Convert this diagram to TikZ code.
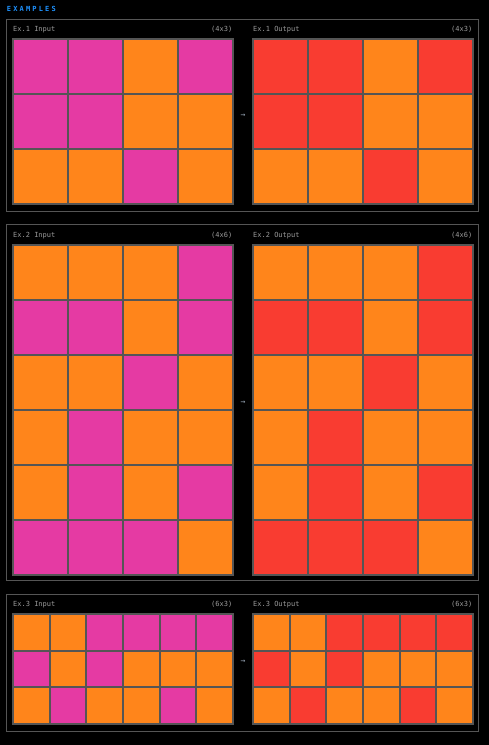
\documentclass[tikz,border=0pt]{standalone}
\usepackage{fontspec}
\setmonofont{DejaVu Sans Mono}
\newfontfamily\titlefont[LetterSpace=31]{DejaVu Sans Mono Bold}
\definecolor{cM}{HTML}{E53AA3}
\definecolor{cO}{HTML}{FF851B}
\definecolor{cR}{HTML}{F93C31}
\definecolor{gridc}{HTML}{555555}
\definecolor{panelc}{HTML}{555555}
\definecolor{labelc}{HTML}{9A9A9A}
\definecolor{titlec}{HTML}{1E93FF}
\definecolor{arrowc}{HTML}{9AA8B8}
\newcommand\drawgrid[4]{% x0, y0, cell, data
  \begin{scope}[shift={(#1,#2)}]
    \foreach \row [count=\r from 0] in {#4} {
      \foreach \c [count=\k from 0] in \row {
        \filldraw[fill=c\c, draw=gridc, line width=2pt] (\k*#3,\r*#3) rectangle ++(#3,#3);
      }
    }
  \end{scope}}
\begin{document}
\begin{tikzpicture}[x=1pt,y=-1pt,
  panel/.style={draw=panelc, line width=1pt},
  lbl/.style={font=\ttfamily\fontsize{7}{8}\selectfont, text=labelc, inner sep=0pt},
  arr/.style={font=\ttfamily\fontsize{8}{9}\selectfont, text=arrowc, inner sep=0pt}]
\fill[black] (0,0) rectangle (489,745);
\useasboundingbox (0,0) rectangle (489,745);
\node[anchor=west, inner sep=0pt, text=titlec, font=\titlefont\fontsize{7}{8}\selectfont] (title) at (6.7,9.3) {EXAMPLES};

% Panel 1
\draw[panel] (6.5,19.5) rectangle (478.5,211);
\node[lbl, anchor=west] (l1i) at (13,29.7) {Ex.1 Input};
\node[lbl, anchor=east] (s1i) at (232.5,29.7) {(4x3)};
\node[lbl, anchor=west] (l1o) at (253,29.7) {Ex.1 Output};
\node[lbl, anchor=east] (s1o) at (472.5,29.7) {(4x3)};
\drawgrid{13}{39}{55}{{M,M,O,M},{M,M,O,O},{O,O,M,O}}
\drawgrid{253}{39}{55}{{R,R,O,R},{R,R,O,O},{O,O,R,O}}
\node[arr] (a1) at (243,116) {→};

% Panel 2
\draw[panel] (6.5,224.5) rectangle (478.5,580);
\node[lbl, anchor=west] (l2i) at (13,235.5) {Ex.2 Input};
\node[lbl, anchor=east] (s2i) at (232.5,235.5) {(4x6)};
\node[lbl, anchor=west] (l2o) at (253,235.5) {Ex.2 Output};
\node[lbl, anchor=east] (s2o) at (472.5,235.5) {(4x6)};
\drawgrid{13}{245}{55}{{O,O,O,M},{M,M,O,M},{O,O,M,O},{O,M,O,O},{O,M,O,M},{M,M,M,O}}
\drawgrid{253}{245}{55}{{O,O,O,R},{R,R,O,R},{O,O,R,O},{O,R,O,O},{O,R,O,R},{R,R,R,O}}
\node[arr] (a2) at (243,403) {→};

% Panel 3
\draw[panel] (6.5,594) rectangle (478.5,731);
\node[lbl, anchor=west] (l3i) at (13,604.7) {Ex.3 Input};
\node[lbl, anchor=east] (s3i) at (232.5,604.7) {(6x3)};
\node[lbl, anchor=west] (l3o) at (253,604.7) {Ex.3 Output};
\node[lbl, anchor=east] (s3o) at (472.5,604.7) {(6x3)};
\drawgrid{13}{614}{36.667}{{O,O,M,M,M,M},{M,O,M,O,O,O},{O,M,O,O,M,O}}
\drawgrid{253}{614}{36.667}{{O,O,R,R,R,R},{R,O,R,O,O,O},{O,R,O,O,R,O}}
\node[arr] (a3) at (243,662) {→};
\end{tikzpicture}
\end{document}
